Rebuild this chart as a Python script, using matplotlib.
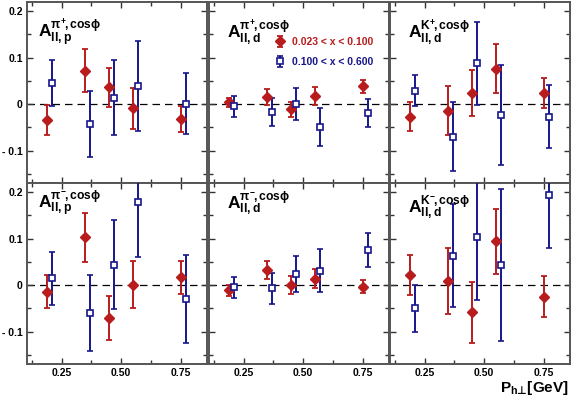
import numpy as np
import matplotlib
matplotlib.use("Agg")
import matplotlib.pyplot as plt
from matplotlib.ticker import FixedLocator, FixedFormatter

plt.rcParams['font.family'] = ['Liberation Sans', 'DejaVu Sans']
plt.rcParams['font.weight'] = 'bold'
plt.rcParams['mathtext.fontset'] = 'custom'
plt.rcParams['mathtext.rm'] = 'Liberation Sans:bold'
plt.rcParams['mathtext.bf'] = 'Liberation Sans:bold'
plt.rcParams['mathtext.it'] = 'Liberation Sans:bold'
plt.rcParams['mathtext.sf'] = 'DejaVu Sans:bold'

# bin positions (red slightly left, blue slightly right)
x_low = [0.19, 0.35, 0.45, 0.55, 0.75]
x_high = [0.21, 0.37, 0.47, 0.57, 0.77]

# 0.023 < x < 0.100 (red) and 0.100 < x < 0.600 (blue)
pip_p_low = [-0.034, 0.072, 0.036, -0.009, -0.032]
pip_p_low_err = [0.032, 0.047, 0.042, 0.044, 0.028]
pip_p_high = [0.045, -0.043, 0.014, 0.038, 0.001]
pip_p_high_err = [0.050, 0.072, 0.081, 0.097, 0.065]

pip_d_low = [0.004, 0.015, -0.011, 0.017, 0.038]
pip_d_low_err = [0.010, 0.018, 0.016, 0.019, 0.014]
pip_d_high = [-0.005, -0.017, 0.000, -0.050, -0.019]
pip_d_high_err = [0.022, 0.030, 0.034, 0.041, 0.030]

kp_d_low = [-0.027, -0.014, 0.024, 0.076, 0.024]
kp_d_low_err = [0.031, 0.052, 0.050, 0.053, 0.032]
kp_d_high = [0.029, -0.070, 0.088, -0.023, -0.027]
kp_d_high_err = [0.034, 0.075, 0.089, 0.108, 0.068]

pim_p_low = [-0.014, 0.103, -0.071, 0.001, 0.017]
pim_p_low_err = [0.035, 0.053, 0.047, 0.050, 0.036]
pim_p_high = [0.015, -0.061, 0.044, 0.178, -0.030]
pim_p_high_err = [0.057, 0.082, 0.096, 0.117, 0.095]

pim_d_low = [-0.011, 0.032, 0.000, 0.014, -0.004]
pim_d_low_err = [0.012, 0.019, 0.019, 0.020, 0.014]
pim_d_high = [-0.005, -0.007, 0.024, 0.031, 0.076]
pim_d_high_err = [0.022, 0.033, 0.038, 0.046, 0.036]

km_d_low = [0.022, 0.009, -0.059, 0.094, -0.025]
km_d_low_err = [0.043, 0.072, 0.066, 0.069, 0.044]
km_d_high = [-0.050, 0.063, 0.103, 0.043, 0.195]
km_d_high_err = [0.050, 0.111, 0.135, 0.163, 0.116]

panel_labels = [
    r'$\mathbf{A}^{\pi^{+}\!,\mathrm{cos}\phi}_{\mathrm{ll,p}}$',
    r'$\mathbf{A}^{\pi^{+}\!,\mathrm{cos}\phi}_{\mathrm{ll,d}}$',
    r'$\mathbf{A}^{\mathrm{K}^{+}\!,\mathrm{cos}\phi}_{\mathrm{ll,d}}$',
    r'$\mathbf{A}^{\pi^{-}\!,\mathrm{cos}\phi}_{\mathrm{ll,p}}$',
    r'$\mathbf{A}^{\pi^{-}\!,\mathrm{cos}\phi}_{\mathrm{ll,d}}$',
    r'$\mathbf{A}^{\mathrm{K}^{-}\!,\mathrm{cos}\phi}_{\mathrm{ll,d}}$',
]
panels = [
    (pip_p_low, pip_p_low_err, pip_p_high, pip_p_high_err),
    (pip_d_low, pip_d_low_err, pip_d_high, pip_d_high_err),
    (kp_d_low, kp_d_low_err, kp_d_high, kp_d_high_err),
    (pim_p_low, pim_p_low_err, pim_p_high, pim_p_high_err),
    (pim_d_low, pim_d_low_err, pim_d_high, pim_d_high_err),
    (km_d_low, km_d_low_err, km_d_high, km_d_high_err),
]
label_pos = [(0.06, 0.80), (0.10, 0.80), (0.10, 0.80),
             (0.06, 0.855), (0.10, 0.855), (0.10, 0.835)]

red = '#b81c1c'
blue = '#16168c'

W, H = 573, 397
fig = plt.figure(figsize=(W / 100, H / 100), dpi=100)

x0, pw = 27, 181
y_top, ph = 2, 181
axes = []
for k in range(6):
    r, c = divmod(k, 3)
    left = (x0 + c * pw + (1 if c > 0 else 0)) / W
    bottom = 1 - (y_top + (r + 1) * ph) / H
    ax = fig.add_axes([left, bottom, (pw - 1) / W, ph / H])
    axes.append(ax)

for k, ax in enumerate(axes):
    lo, lo_err, hi, hi_err = panels[k]
    ax.axhline(0, color='black', lw=0.9, ls=(0, (6, 4)), zorder=1)
    ax.errorbar(x_low, lo, yerr=lo_err, fmt='D', color=red, ms=4.6,
                mfc=red, mec=red, elinewidth=1.4, capsize=2.5, capthick=1.3,
                label='0.023 < x < 0.100', zorder=3)
    ax.errorbar(x_high, hi, yerr=hi_err, fmt='s', color=blue, ms=4.0,
                mfc='white', mec=blue, mew=1.2, elinewidth=1.4, capsize=2.2,
                capthick=1.3, label='0.100 < x < 0.600', zorder=3)
    ax.set_xlim(0.105, 0.86)
    ax.set_ylim(-0.17, 0.22)

    ax.xaxis.set_major_locator(FixedLocator([0.25, 0.5, 0.75]))
    ax.xaxis.set_minor_locator(FixedLocator([0.125, 0.375, 0.625]))
    ax.yaxis.set_major_locator(FixedLocator([-0.1, 0.0, 0.1, 0.2]))
    ax.yaxis.set_minor_locator(FixedLocator([-0.15, -0.05, 0.05, 0.15]))
    ax.tick_params(which='both', direction='in', top=True, right=True,
                   color='#333333', width=1.0, labelsize=7.5, pad=3)
    ax.tick_params(which='major', length=4)
    ax.tick_params(which='minor', length=3)

    if k % 3 == 0:
        ax.yaxis.set_major_formatter(FixedFormatter(['- 0.1', '0', '0.1', '0.2']))
    else:
        ax.set_yticklabels([])
    if k >= 3:
        ax.xaxis.set_major_formatter(FixedFormatter(['0.25', '0.50', '0.75']))
    else:
        ax.set_xticklabels([])
    for lab in ax.get_xticklabels() + ax.get_yticklabels():
        lab.set_fontweight('bold')

    for s in ax.spines.values():
        s.set_color('#555555')
        s.set_linewidth(1.4)

    lx, ly = label_pos[k]
    ax.text(lx, ly, panel_labels[k], transform=ax.transAxes, fontsize=12.5,
            va='baseline', ha='left')

axes[1].legend(loc='upper left', bbox_to_anchor=(0.345, 0.835),
               frameon=False, handlelength=0.8, handletextpad=0.7,
               labelspacing=0.95, borderpad=0, numpoints=1,
               prop={'size': 7.5, 'weight': 'bold'},
               labelcolor='markeredgecolor')

xlabel = r'$\mathbf{P}_{\mathrm{h}\mathsf{' + '\u22a5' + r'}}$[GeV]'
fig.text(0.992, 0.012, xlabel, ha='right', va='baseline', fontsize=11,
         fontweight='bold')

fig.savefig('out.png', dpi=100)
